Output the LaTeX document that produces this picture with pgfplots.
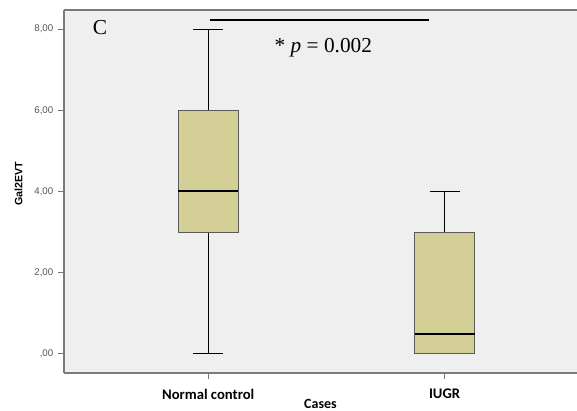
\documentclass[border=0pt]{standalone}
\usepackage{fontspec}
\setmainfont{Liberation Sans}
\newfontfamily\timesfont{Liberation Serif}
\newfontfamily\calfont{Carlito}
\usepackage{pgfplots}
\pgfplotsset{compat=1.18}
\usepgfplotslibrary{statistics}
\definecolor{bgcol}{HTML}{EFEFEF}
\definecolor{boxcol}{HTML}{D4CF96}
\definecolor{edgecol}{HTML}{5A5A5A}
\definecolor{axcol}{HTML}{7A7A7A}
\definecolor{tickcol}{HTML}{555555}
\begin{document}
\begin{tikzpicture}
\begin{axis}[
  scale only axis,
  width=384.75pt, height=272.25pt,
  xmin=0.39, xmax=2.56,
  ymin=-0.47, ymax=8.47,
  axis x line*=bottom, axis y line*=left,
  axis line style={axcol, line width=0.9pt},
  axis background/.style={fill=bgcol},
  xtick={1,2}, xticklabels={Normal control, IUGR},
  ytick={0,2,4,6,8}, yticklabels={{,00},{2,00},{4,00},{6,00},{8,00}},
  x tick label style={font=\calfont\bfseries\fontsize{11}{12}\selectfont, yshift=-4pt},
  y tick label style={font=\fontsize{7.3}{8}\selectfont, text=tickcol},
  tick align=outside,
  major tick length=4.5pt,
  tick style={axcol, line width=0.8pt},
  xlabel={Cases}, ylabel={Gal2EVT},
  xlabel style={font=\calfont\bfseries\fontsize{10.5}{11}\selectfont, yshift=7pt},
  ylabel style={font=\bfseries\fontsize{8}{9}\selectfont, yshift=2pt, xshift=6pt},
  clip=false,
  boxplot/draw direction=y,
  boxplot/every box/.style={draw=edgecol, fill=boxcol, line width=0.8pt},
  boxplot/every whisker/.style={black, line width=0.8pt},
  boxplot/every median/.style={black, line width=1.5pt},
]
\addplot+[boxplot prepared={lower whisker=0, lower quartile=3, median=4,
  upper quartile=6, upper whisker=8, draw position=1,
  box extend=0.254, whisker extend=0.127}, mark=none, black]
  coordinates {};
\addplot+[boxplot prepared={lower whisker=0, lower quartile=0, median=0.5,
  upper quartile=3, upper whisker=4, draw position=2,
  box extend=0.254, whisker extend=0.127}, mark=none, black]
  coordinates {};
\draw[axcol, line width=0.9pt] (rel axis cs:0,1) -- (rel axis cs:1,1);
\draw[black, line width=1.6pt] (axis cs:1.008,8.23) -- (axis cs:1.936,8.23);
\node[font=\timesfont\fontsize{16}{18}\selectfont] at (axis cs:1.487,7.55) {* \textit{p} = 0.002};
\node[font=\timesfont\fontsize{16}{18}\selectfont] at (axis cs:0.542,8.03) {C};
\end{axis}
\pgfresetboundingbox
\path (current axis.south west) ++(-48pt,-27.75pt) rectangle ++(432.75pt,307.5pt);
\end{tikzpicture}
\end{document}
